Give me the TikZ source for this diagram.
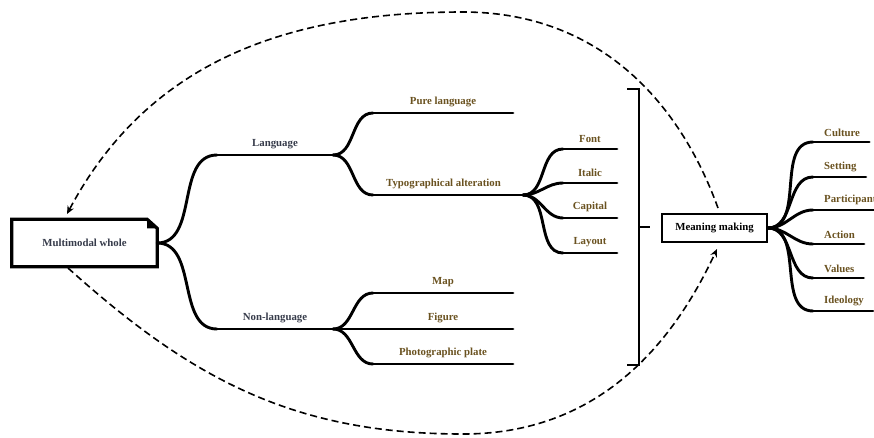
\documentclass[tikz,border=0pt]{standalone}
\usepackage{fontspec}
\setmainfont{Liberation Serif}
\usetikzlibrary{positioning,arrows.meta,calc}
\definecolor{slate}{HTML}{363B4A}
\definecolor{ochre}{HTML}{6A5220}
\begin{document}
\begin{tikzpicture}[
      x=1pt, y=-1pt,
      font=\fontsize{10.8}{12}\selectfont\bfseries,
      >={Stealth[length=8pt,width=7pt]},
      branch/.style={line width=2.9pt, line cap=round},
      curvy/.style={branch, out=0, in=180},
      lbl/.style={text=ochre, anchor=south, inner sep=1pt},
      head/.style={text=slate, anchor=south, inner sep=1pt},
      feedback/.style={line width=1.6pt, dash pattern=on 7pt off 4pt, ->}
    ]
    \useasboundingbox (0,0) rectangle (874,437);

    % root note with folded corner
    \node[text=slate, minimum width=145pt, minimum height=47pt, inner sep=0pt] (mmw) at (84.5,243) {Multimodal whole};
    \draw[line width=3.2pt, line join=miter]
      (mmw.south west) -- (mmw.north west) -- ($(mmw.north east)+(-10,0)$)
      -- ($(mmw.north east)+(0,9)$) -- (mmw.south east) -- cycle;
    \fill ($(mmw.north east)+(-10,0)$) -- ($(mmw.north east)+(-10,9)$) -- ($(mmw.north east)+(0,9)$) -- cycle;

    % level 1
    \coordinate (langa) at (217,155);   \coordinate (langb) at (333,155);
    \coordinate (nonla) at (217,329);   \coordinate (nonlb) at (333,329);
    \draw[curvy] (mmw.east) to (langa);
    \draw[curvy] (mmw.east) to (nonla);
    \draw[branch] (langa) -- (langb) node[head, midway, above=4pt] (lang) {Language};
    \draw[branch] (nonla) -- (nonlb) node[head, midway, above=4pt] (nonl) {Non-language};

    % language
    \coordinate (purea) at (373,113);   \coordinate (pureb) at (513,113);
    \coordinate (typoa) at (373,195);   \coordinate (typob) at (523,195);
    \draw[curvy] (langb) to (purea);
    \draw[curvy] (langb) to (typoa);
    \draw[branch] (purea) -- (pureb) node[lbl, pos=0.5, above=4pt] (pure) {Pure language};
    \draw[branch] (typoa) -- (typob) node[lbl, pos=0.47, above=4pt] (typo) {Typographical alteration};

    % typographical alteration
    \foreach \nm/\txt/\yy in {font/Font/149, ital/Italic/183, capi/Capital/218, layo/Layout/253}{
      \coordinate (\nm a) at (563,\yy);
      \coordinate (\nm b) at (617,\yy);
      \draw[curvy] (typob) to (\nm a);
      \draw[branch] (\nm a) -- (\nm b) node[lbl, midway, above=4pt] (\nm) {\txt};
    }

    % non-language
    \coordinate (mapa) at (373,293);    \coordinate (mapb) at (513,293);
    \coordinate (figa) at (373,329);    \coordinate (figb) at (513,329);
    \coordinate (phoa) at (373,364);    \coordinate (phob) at (513,364);
    \draw[curvy] (nonlb) to (mapa);
    \draw[curvy] (nonlb) to (figa);
    \draw[curvy] (nonlb) to (phoa);
    \draw[branch] (mapa) -- (mapb) node[lbl, midway, above=4pt] (map) {Map};
    \draw[branch] (figa) -- (figb) node[lbl, midway, above=4pt] (fig) {Figure};
    \draw[branch] (phoa) -- (phob) node[lbl, midway, above=4pt] (pho) {Photographic plate};

    % bracket
    \coordinate (brtop) at (639,89);
    \coordinate (brbot) at (639,365);
    \draw[line width=2.9pt, line join=miter] ($(brtop)+(-12,0)$) -- (brtop) -- (brbot) -- ($(brbot)+(-12,0)$);
    \draw[line width=2.9pt] (639,227) -- (650,227);

    % meaning making
    \node[draw, line width=1.8pt, minimum width=105pt, minimum height=28pt, inner sep=0pt] (mm) at (714.5,228) {Meaning making};
    \foreach \nm/\txt/\yy in {cult/Culture/142, sett/Setting/177, part/Participant/210, acti/Action/244, valu/Values/278, ideo/Ideology/311}{
      \node[text=ochre, anchor=south west, inner sep=1pt] (\nm) at (823,\yy-4) {\txt};
      \coordinate (\nm a) at (813,\yy);
      \draw[curvy] (mm.east) to (\nm a);
      \draw[branch] (\nm a) -- (\nm a -| \nm.east) -- ++(8,0);
    }

    % feedback loop
    \draw[feedback] (718,208) to[out=110, in=0] (463,12) to[out=180, in=62] (67,214);
    \draw[feedback] (68,268) to[out=-42, in=180] (463,434) to[out=0, in=-115] (717,249);
  \end{tikzpicture}
\end{document}
